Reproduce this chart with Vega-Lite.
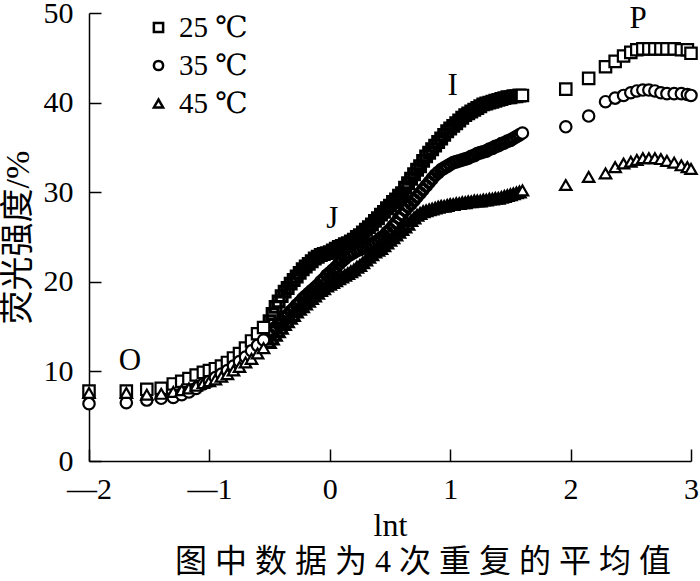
{
  "$schema": "https://vega.github.io/schema/vega-lite/v6.json",
  "width": 602,
  "height": 448,
  "autosize": {"type": "none"},
  "padding": {"left": 89, "top": 13, "right": 9, "bottom": 120},
  "background": "white",
  "config": {"view": {"stroke": null}, "font": "Liberation Serif"},
  "title": {
    "text": "图 中 数 据 为 4 次 重 复 的 平 均 值",
    "orient": "bottom",
    "anchor": "middle",
    "frame": "group",
    "dx": 33,
    "offset": 6,
    "fontSize": 32,
    "font": "Liberation Serif, Noto Sans CJK SC",
    "fontWeight": "normal",
    "color": "black"
  },
  "data": {
    "values": [
      {"lnt": -2.00, "t25": 7.8, "t35": 6.4, "t45": 7.6},
      {"lnt": -1.69, "t25": 7.8, "t35": 6.5, "t45": 7.6},
      {"lnt": -1.52, "t25": 8.0, "t35": 6.8, "t45": 7.4},
      {"lnt": -1.40, "t25": 8.1, "t35": 7.0, "t45": 7.5},
      {"lnt": -1.30, "t25": 8.6, "t35": 7.1, "t45": 7.7},
      {"lnt": -1.23, "t25": 8.9, "t35": 7.4, "t45": 7.9},
      {"lnt": -1.17, "t25": 9.2, "t35": 7.7, "t45": 8.1},
      {"lnt": -1.11, "t25": 9.6, "t35": 8.1, "t45": 8.4},
      {"lnt": -1.05, "t25": 9.9, "t35": 8.6, "t45": 8.7},
      {"lnt": -1.00, "t25": 10.1, "t35": 8.9, "t45": 8.9},
      {"lnt": -0.95, "t25": 10.3, "t35": 9.3, "t45": 9.1},
      {"lnt": -0.90, "t25": 10.6, "t35": 9.7, "t45": 9.4},
      {"lnt": -0.85, "t25": 11.0, "t35": 10.1, "t45": 9.7},
      {"lnt": -0.80, "t25": 11.5, "t35": 10.6, "t45": 10.1},
      {"lnt": -0.75, "t25": 12.0, "t35": 11.1, "t45": 10.5},
      {"lnt": -0.70, "t25": 12.6, "t35": 11.6, "t45": 11.0},
      {"lnt": -0.65, "t25": 13.4, "t35": 12.3, "t45": 11.4},
      {"lnt": -0.60, "t25": 14.2, "t35": 12.9, "t45": 12.0},
      {"lnt": -0.55, "t25": 14.9, "t35": 13.5, "t45": 12.6},
      {"lnt": -0.50, "t25": 15.6, "t35": 14.1, "t45": 13.2},
      {"lnt": -0.475, "t25": 16.4, "t35": 14.5, "t45": 13.6},
      {"lnt": -0.450, "t25": 17.2, "t35": 14.9, "t45": 14.0},
      {"lnt": -0.425, "t25": 17.8, "t35": 15.3, "t45": 14.4},
      {"lnt": -0.400, "t25": 18.4, "t35": 15.6, "t45": 14.8},
      {"lnt": -0.375, "t25": 18.9, "t35": 16.0, "t45": 15.2},
      {"lnt": -0.350, "t25": 19.3, "t35": 16.3, "t45": 15.5},
      {"lnt": -0.325, "t25": 19.8, "t35": 16.7, "t45": 15.9},
      {"lnt": -0.300, "t25": 20.2, "t35": 17.0, "t45": 16.2},
      {"lnt": -0.275, "t25": 20.6, "t35": 17.4, "t45": 16.6},
      {"lnt": -0.250, "t25": 21.0, "t35": 17.7, "t45": 16.9},
      {"lnt": -0.225, "t25": 21.4, "t35": 18.1, "t45": 17.2},
      {"lnt": -0.200, "t25": 21.7, "t35": 18.4, "t45": 17.5},
      {"lnt": -0.175, "t25": 22.0, "t35": 18.7, "t45": 17.8},
      {"lnt": -0.150, "t25": 22.3, "t35": 19.0, "t45": 18.1},
      {"lnt": -0.125, "t25": 22.6, "t35": 19.3, "t45": 18.4},
      {"lnt": -0.100, "t25": 22.8, "t35": 19.6, "t45": 18.7},
      {"lnt": -0.075, "t25": 23.0, "t35": 20.0, "t45": 19.0},
      {"lnt": -0.050, "t25": 23.1, "t35": 20.3, "t45": 19.2},
      {"lnt": -0.025, "t25": 23.2, "t35": 20.7, "t45": 19.5},
      {"lnt": 0.000, "t25": 23.3, "t35": 21.0, "t45": 19.7},
      {"lnt": 0.025, "t25": 23.5, "t35": 21.3, "t45": 19.9},
      {"lnt": 0.050, "t25": 23.7, "t35": 21.6, "t45": 20.1},
      {"lnt": 0.075, "t25": 23.9, "t35": 22.0, "t45": 20.3},
      {"lnt": 0.100, "t25": 24.0, "t35": 22.3, "t45": 20.5},
      {"lnt": 0.125, "t25": 24.2, "t35": 22.6, "t45": 20.7},
      {"lnt": 0.150, "t25": 24.3, "t35": 22.9, "t45": 20.9},
      {"lnt": 0.175, "t25": 24.5, "t35": 23.1, "t45": 21.1},
      {"lnt": 0.200, "t25": 24.7, "t35": 23.3, "t45": 21.3},
      {"lnt": 0.225, "t25": 25.0, "t35": 23.5, "t45": 21.6},
      {"lnt": 0.250, "t25": 25.2, "t35": 23.6, "t45": 21.8},
      {"lnt": 0.275, "t25": 25.5, "t35": 23.8, "t45": 22.1},
      {"lnt": 0.300, "t25": 25.8, "t35": 23.9, "t45": 22.4},
      {"lnt": 0.325, "t25": 26.1, "t35": 24.1, "t45": 22.7},
      {"lnt": 0.350, "t25": 26.4, "t35": 24.2, "t45": 23.0},
      {"lnt": 0.375, "t25": 26.8, "t35": 24.4, "t45": 23.3},
      {"lnt": 0.400, "t25": 27.1, "t35": 24.6, "t45": 23.5},
      {"lnt": 0.425, "t25": 27.5, "t35": 24.9, "t45": 23.7},
      {"lnt": 0.450, "t25": 27.8, "t35": 25.1, "t45": 24.0},
      {"lnt": 0.475, "t25": 28.2, "t35": 25.5, "t45": 24.3},
      {"lnt": 0.500, "t25": 28.5, "t35": 25.8, "t45": 24.6},
      {"lnt": 0.525, "t25": 28.9, "t35": 26.2, "t45": 24.9},
      {"lnt": 0.550, "t25": 29.2, "t35": 26.6, "t45": 25.2},
      {"lnt": 0.575, "t25": 29.6, "t35": 27.1, "t45": 25.5},
      {"lnt": 0.600, "t25": 29.9, "t35": 27.5, "t45": 25.8},
      {"lnt": 0.625, "t25": 30.5, "t35": 28.0, "t45": 26.1},
      {"lnt": 0.650, "t25": 31.0, "t35": 28.4, "t45": 26.4},
      {"lnt": 0.675, "t25": 31.5, "t35": 28.7, "t45": 26.8},
      {"lnt": 0.700, "t25": 32.0, "t35": 29.1, "t45": 27.1},
      {"lnt": 0.725, "t25": 32.5, "t35": 29.5, "t45": 27.4},
      {"lnt": 0.750, "t25": 32.9, "t35": 29.9, "t45": 27.6},
      {"lnt": 0.775, "t25": 33.5, "t35": 30.3, "t45": 27.8},
      {"lnt": 0.800, "t25": 34.0, "t35": 30.7, "t45": 27.9},
      {"lnt": 0.825, "t25": 34.4, "t35": 31.1, "t45": 28.0},
      {"lnt": 0.850, "t25": 34.8, "t35": 31.5, "t45": 28.1},
      {"lnt": 0.875, "t25": 35.2, "t35": 31.9, "t45": 28.2},
      {"lnt": 0.900, "t25": 35.6, "t35": 32.2, "t45": 28.3},
      {"lnt": 0.925, "t25": 36.0, "t35": 32.5, "t45": 28.4},
      {"lnt": 0.950, "t25": 36.4, "t35": 32.7, "t45": 28.4},
      {"lnt": 0.975, "t25": 36.8, "t35": 32.9, "t45": 28.5},
      {"lnt": 1.000, "t25": 37.1, "t35": 33.1, "t45": 28.6},
      {"lnt": 1.025, "t25": 37.4, "t35": 33.3, "t45": 28.6},
      {"lnt": 1.050, "t25": 37.7, "t35": 33.4, "t45": 28.7},
      {"lnt": 1.075, "t25": 38.0, "t35": 33.5, "t45": 28.7},
      {"lnt": 1.100, "t25": 38.3, "t35": 33.6, "t45": 28.8},
      {"lnt": 1.125, "t25": 38.6, "t35": 33.7, "t45": 28.8},
      {"lnt": 1.150, "t25": 38.8, "t35": 33.8, "t45": 28.9},
      {"lnt": 1.175, "t25": 39.0, "t35": 34.0, "t45": 28.9},
      {"lnt": 1.200, "t25": 39.2, "t35": 34.1, "t45": 29.0},
      {"lnt": 1.225, "t25": 39.4, "t35": 34.3, "t45": 29.0},
      {"lnt": 1.250, "t25": 39.6, "t35": 34.4, "t45": 29.0},
      {"lnt": 1.275, "t25": 39.8, "t35": 34.5, "t45": 29.1},
      {"lnt": 1.300, "t25": 39.9, "t35": 34.6, "t45": 29.1},
      {"lnt": 1.325, "t25": 40.0, "t35": 34.8, "t45": 29.2},
      {"lnt": 1.350, "t25": 40.1, "t35": 34.9, "t45": 29.2},
      {"lnt": 1.375, "t25": 40.2, "t35": 35.1, "t45": 29.3},
      {"lnt": 1.400, "t25": 40.3, "t35": 35.2, "t45": 29.3},
      {"lnt": 1.425, "t25": 40.4, "t35": 35.4, "t45": 29.4},
      {"lnt": 1.450, "t25": 40.5, "t35": 35.5, "t45": 29.5},
      {"lnt": 1.475, "t25": 40.6, "t35": 35.7, "t45": 29.6},
      {"lnt": 1.500, "t25": 40.6, "t35": 35.8, "t45": 29.7},
      {"lnt": 1.525, "t25": 40.7, "t35": 36.0, "t45": 29.8},
      {"lnt": 1.550, "t25": 40.7, "t35": 36.2, "t45": 29.9},
      {"lnt": 1.575, "t25": 40.8, "t35": 36.4, "t45": 30.0},
      {"lnt": 1.600, "t25": 40.8, "t35": 36.6, "t45": 30.2},
      {"lnt": 1.96, "t25": 41.5, "t35": 37.3, "t45": 30.8},
      {"lnt": 2.15, "t25": 42.7, "t35": 38.5, "t45": 31.7},
      {"lnt": 2.29, "t25": 44.0, "t35": 40.1, "t45": 32.1},
      {"lnt": 2.37, "t25": 44.6, "t35": 40.5, "t45": 32.8},
      {"lnt": 2.44, "t25": 45.2, "t35": 40.8, "t45": 33.2},
      {"lnt": 2.50, "t25": 45.6, "t35": 41.1, "t45": 33.4},
      {"lnt": 2.55, "t25": 45.9, "t35": 41.3, "t45": 33.6},
      {"lnt": 2.60, "t25": 46.0, "t35": 41.4, "t45": 33.8},
      {"lnt": 2.65, "t25": 46.0, "t35": 41.4, "t45": 33.8},
      {"lnt": 2.70, "t25": 46.0, "t35": 41.3, "t45": 33.8},
      {"lnt": 2.75, "t25": 46.0, "t35": 41.1, "t45": 33.7},
      {"lnt": 2.80, "t25": 46.0, "t35": 41.0, "t45": 33.5},
      {"lnt": 2.86, "t25": 46.0, "t35": 41.0, "t45": 33.3},
      {"lnt": 2.92, "t25": 45.9, "t35": 41.0, "t45": 33.0},
      {"lnt": 2.97, "t25": 45.9, "t35": 40.9, "t45": 32.8},
      {"lnt": 3.00, "t25": 45.5, "t35": 40.8, "t45": 32.6}
    ]
  },
  "encoding": {
    "x": {
      "field": "lnt",
      "type": "quantitative",
      "scale": {"domain": [-2, 3], "nice": false, "zero": false},
      "axis": {
        "values": [-2, -1, 0, 1, 2, 3],
        "format": "d",
        "title": "lnt",
        "grid": false,
        "domainColor": "black",
        "domainWidth": 1.5,
        "tickColor": "black",
        "tickWidth": 1.5,
        "tickSize": -12,
        "labelFontSize": 30,
        "labelFont": "Liberation Serif",
        "labelColor": "black",
        "labelPadding": 25,
        "labelFlush": false,
        "labelOverlap": false,
        "labelExpr": "datum.value < 0 ? '—' + abs(datum.value) : '' + datum.value",
        "titleFont": "Liberation Serif",
        "titleFontSize": 32,
        "titleFontWeight": "normal",
        "titleColor": "black",
        "titlePadding": 6
      }
    },
    "y": {
      "field": "value",
      "type": "quantitative",
      "scale": {"domain": [0, 50], "nice": false},
      "axis": {
        "values": [0, 10, 20, 30, 40, 50],
        "title": "荧光强度/%",
        "grid": false,
        "domainColor": "black",
        "domainWidth": 1.5,
        "tickColor": "black",
        "tickWidth": 1.5,
        "tickSize": -12,
        "labelFontSize": 30,
        "labelFont": "Liberation Serif",
        "labelColor": "black",
        "labelPadding": 28,
        "labelFlush": false,
        "labelOverlap": false,
        "titleFont": "Liberation Serif, Noto Sans CJK SC",
        "titleFontSize": 34,
        "titleFontWeight": "normal",
        "titleColor": "black",
        "titlePadding": 8
      }
    },
    "shape": {
      "field": "series",
      "type": "nominal",
      "scale": {"domain": ["t25", "t35", "t45"], "range": ["square", "circle", "triangle-up"]},
      "legend": {
        "orient": "none",
        "legendX": 55,
        "legendY": 0,
        "title": null,
        "padding": 0,
        "symbolSize": 85,
        "symbolStrokeWidth": 2.5,
        "symbolStrokeColor": "black",
        "symbolFillColor": "white",
        "labelFont": "Liberation Serif, DejaVu Serif, Noto Sans CJK SC",
        "labelFontSize": 29,
        "labelColor": "black",
        "labelOffset": 6,
        "rowPadding": 8,
        "labelExpr": "datum.label == 't25' ? '25 ℃' : datum.label == 't35' ? '35 ℃' : '45 ℃'"
      }
    }
  },
  "layer": [
    {
      "transform": [
        {"filter": "datum.lnt >= -0.5 && datum.lnt < 1.6"},
        {"fold": ["t25", "t35", "t45"], "as": ["series", "value"]}
      ],
      "mark": {"type": "point", "filled": false, "color": "black", "strokeWidth": 3.2, "size": 115, "opacity": 1, "clip": false}
    },
    {
      "transform": [
        {"filter": "datum.lnt < -0.5"},
        {"fold": ["t25", "t35", "t45"], "as": ["series", "value"]}
      ],
      "mark": {"type": "point", "filled": true, "fill": "white", "stroke": "black", "strokeWidth": 2.2, "size": 130, "opacity": 1, "fillOpacity": 1, "clip": false}
    },
    {
      "transform": [
        {"filter": "datum.lnt >= 1.6"},
        {"fold": ["t25", "t35", "t45"], "as": ["series", "value"]}
      ],
      "mark": {"type": "point", "filled": true, "fill": "white", "stroke": "black", "strokeWidth": 2.2, "size": 130, "opacity": 1, "fillOpacity": 1, "clip": false}
    },
    {
      "data": {
        "values": [
          {"lnt": -1.66, "value": 10.15, "label": "O"},
          {"lnt": 0.02, "value": 26.0, "label": "J"},
          {"lnt": 1.02, "value": 40.8, "label": "I"},
          {"lnt": 2.56, "value": 48.3, "label": "P"}
        ]
      },
      "mark": {"type": "text", "font": "Liberation Serif", "fontSize": 31, "baseline": "alphabetic", "align": "center", "color": "black", "clip": false},
      "encoding": {
        "x": {"field": "lnt", "type": "quantitative"},
        "y": {"field": "value", "type": "quantitative"},
        "text": {"field": "label"},
        "shape": null
      }
    }
  ]
}
